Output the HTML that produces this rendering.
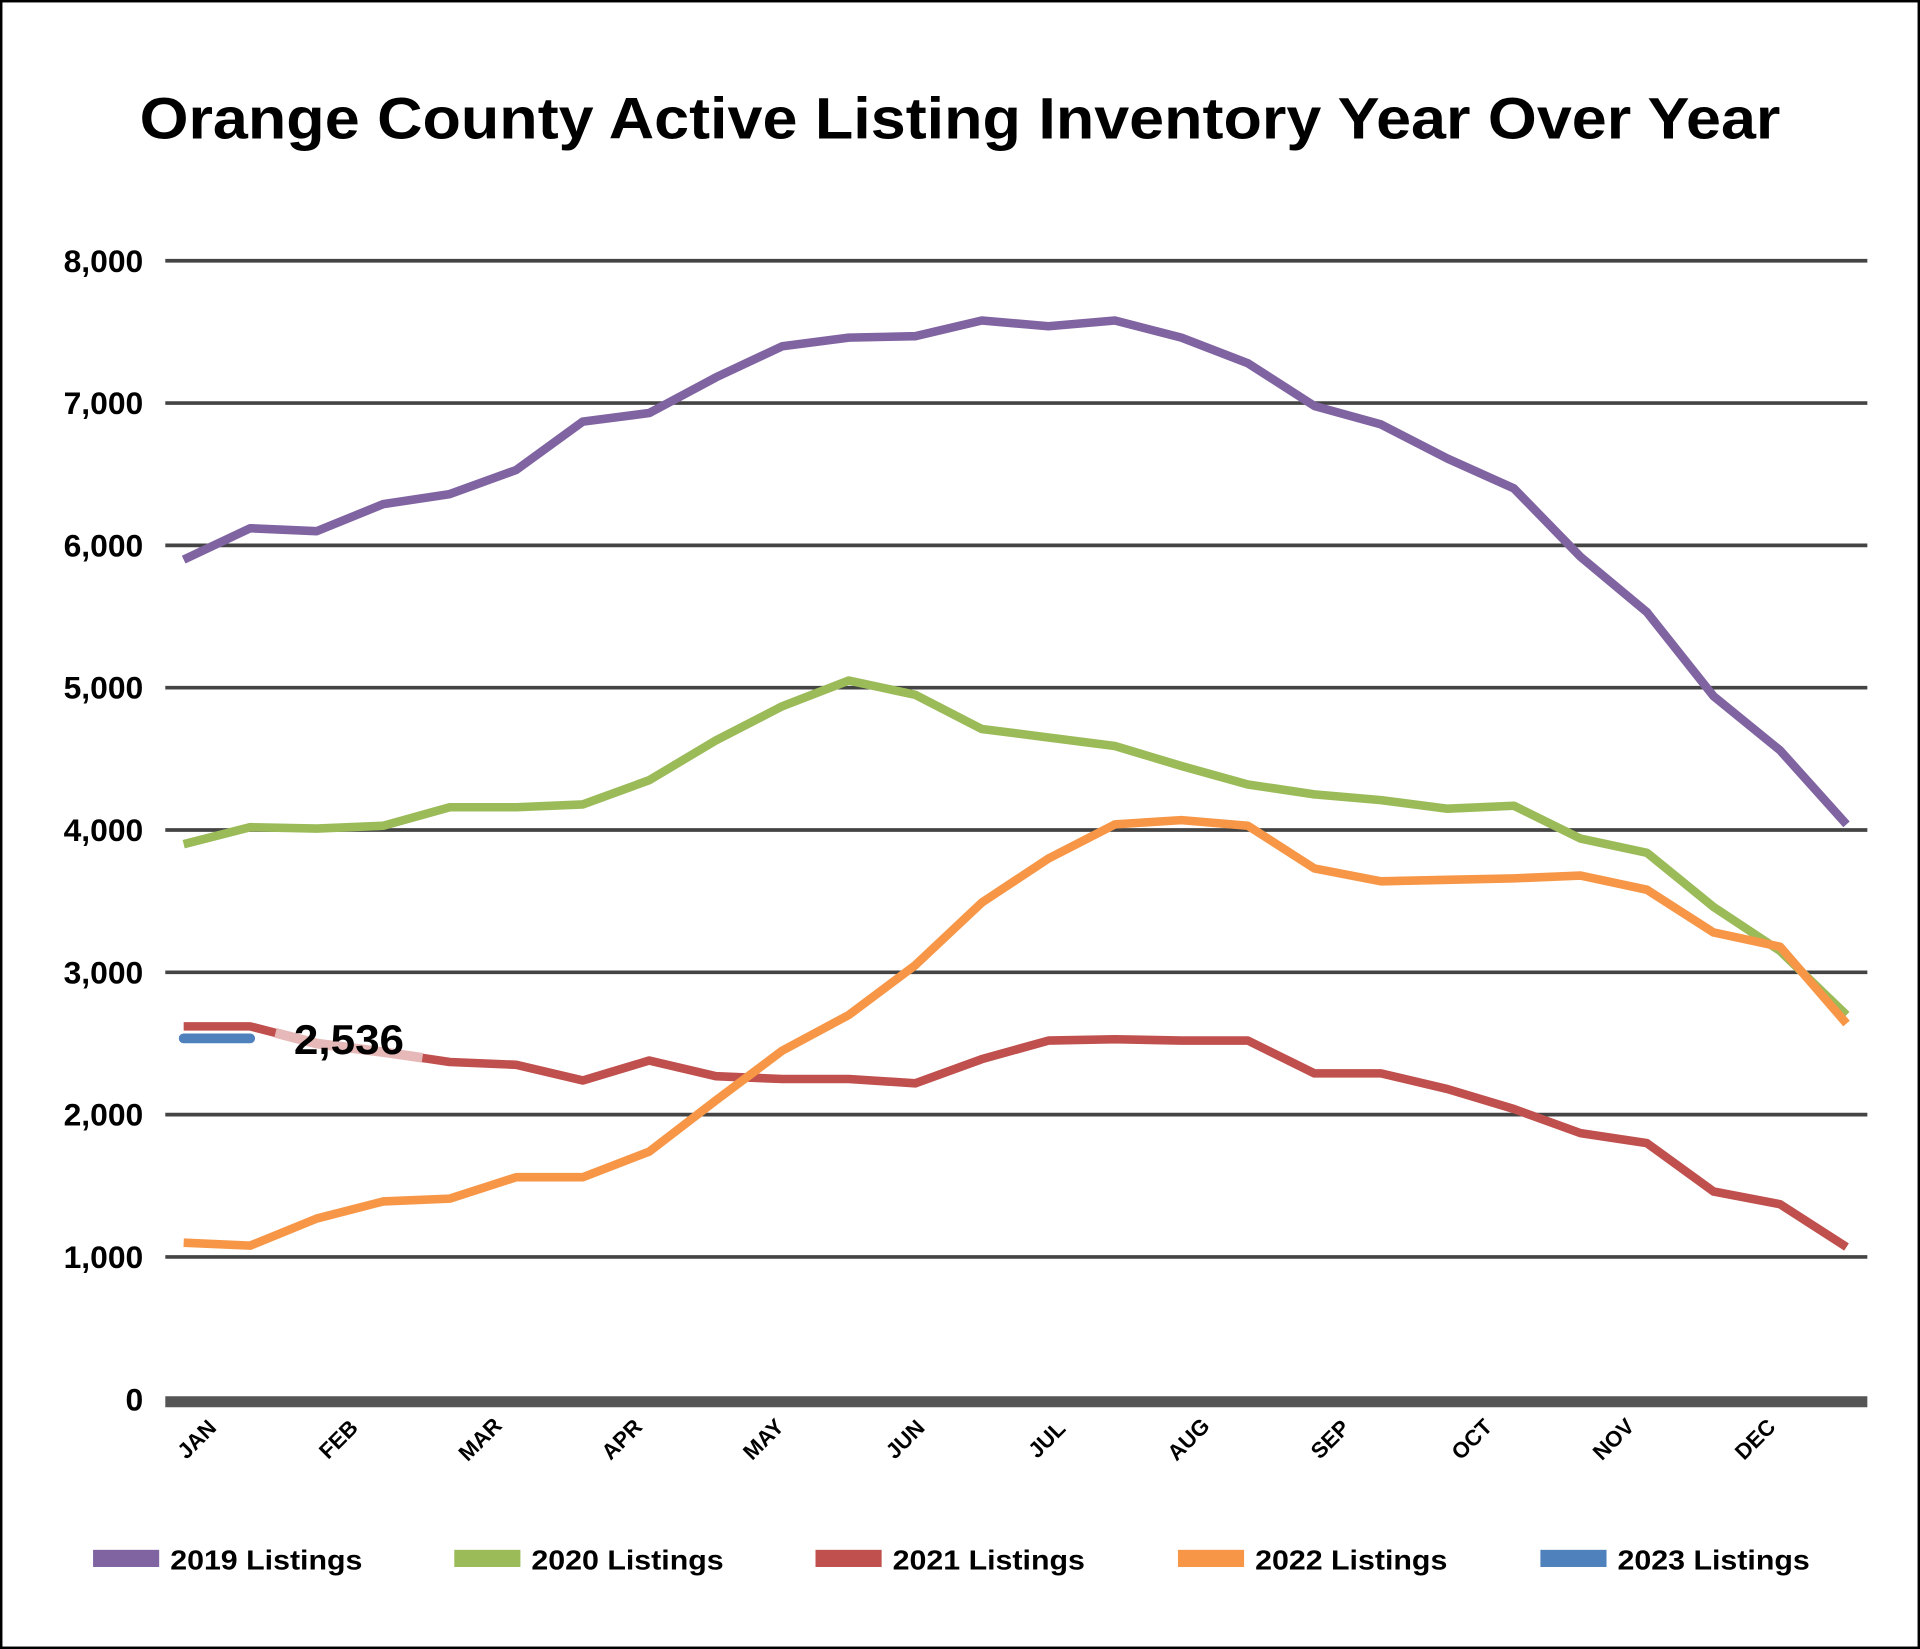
<!DOCTYPE html>
<html><head><meta charset="utf-8"><style>
html,body{margin:0;padding:0;background:#fff;}
svg{display:block;font-family:"Liberation Sans","DejaVu Sans",sans-serif;}
</style></head><body>
<svg id="chart" width="1920" height="1649" viewBox="0 0 1568 1347" preserveAspectRatio="none" xmlns="http://www.w3.org/2000/svg">
<rect x="1" y="1" width="1566" height="1345" fill="#fff" stroke="#000" stroke-width="2"/>
<text x="114" y="113" textLength="1340" lengthAdjust="spacingAndGlyphs" font-size="48" font-weight="bold" fill="#000">Orange County Active Listing Inventory Year Over Year</text>
<g id="grid"></g><g id="series"></g><g id="labels"></g><g id="legend"></g>
</svg>
<script>
const months = ["JAN","FEB","MAR","APR","MAY","JUN","JUL","AUG","SEP","OCT","NOV","DEC"];
const yTicks = [0,1000,2000,3000,4000,5000,6000,7000,8000];
const s2019 = [5900,6120,6100,6290,6360,6530,6870,6930,7180,7400,7460,7470,7580,7540,7580,7460,7280,6980,6850,6610,6400,5920,5530,4940,4560,4040];
const s2020 = [3900,4020,4010,4030,4160,4160,4180,4350,4630,4870,5050,4950,4710,4650,4590,4450,4320,4250,4210,4150,4170,3940,3840,3460,3150,2700];
const s2021 = [2620,2620,2500,2440,2370,2350,2240,2380,2270,2250,2250,2220,2390,2520,2530,2520,2520,2290,2290,2180,2040,1870,1800,1460,1370,1070];
const s2022 = [1100,1080,1270,1390,1410,1560,1560,1740,2100,2450,2700,3050,3490,3800,4040,4070,4030,3730,3640,3650,3660,3680,3580,3280,3180,2640];
const s2023 = [2536,2536];
const seriesNames = ["2019 Listings","2020 Listings","2021 Listings","2022 Listings","2023 Listings"];
const seriesColors = ["#8064a2","#9bbb59","#c0504d","#f79646","#4f81bd"];
const calloutValue = "2,536";

const NS="http://www.w3.org/2000/svg";
const x0=150, x1=1508, nPts=26;
const yZero=1143, yTop=213, yMax=8000;
const X=i=>x0+(x1-x0)*i/(nPts-1);
const Y=v=>yZero-(yZero-yTop)*v/yMax;
const M=i=>165+115.7*i;
function mk(tag,attrs,parent){const e=document.createElementNS(NS,tag);for(const k in attrs)e.setAttribute(k,attrs[k]);parent.appendChild(e);return e;}
const grid=document.getElementById('grid'), ser=document.getElementById('series'), lab=document.getElementById('labels'), leg=document.getElementById('legend');

yTicks.forEach(v=>{
  const l=mk('line',{x1:135,x2:1525,y1:Y(v)+(v===0?2:0),y2:Y(v)+(v===0?2:0),stroke:v===0?'#555':'#444','stroke-width':v===0?9:3},grid);
  
  
  const t=mk('text',{x:117,y:Y(v)+9,'text-anchor':'end','font-size':26,'font-weight':'bold',fill:'#000'},lab);
  t.textContent=v.toLocaleString('en-US');
  
  
});
months.forEach((m,i)=>{
  const cx=M(i), cy=1180;
  const t=mk('text',{x:cx,y:cy,'text-anchor':'middle','font-size':18,'font-weight':'bold',fill:'#000',transform:`rotate(-45 ${cx} ${cy})`},lab);
  t.textContent=m;
  
  
});
const all=[s2019,s2020,s2021,s2022,s2023];
all.forEach((arr,k)=>{
  const pts=arr.map((v,i)=>X(i).toFixed(1)+','+Y(v).toFixed(1)).join(' ');
  const p=mk('polyline',{points:pts,fill:'none',stroke:seriesColors[k],'stroke-width':k===4?8:7,'stroke-linejoin':'round','stroke-linecap':k===4?'round':'butt'},ser);
  
  
});
const fx0=225, fx1=345;
const fadePts=[];
for(let i=0;i<s2021.length-1;i++){
  const xa=X(i), xb=X(i+1);
  if(xb<fx0||xa>fx1) continue;
  const ca=Math.max(xa,fx0), cb=Math.min(xb,fx1);
  const f=x=>s2021[i]+(s2021[i+1]-s2021[i])*(x-xa)/(xb-xa);
  fadePts.push(ca.toFixed(1)+','+Y(f(ca)).toFixed(1)); fadePts.push(cb.toFixed(1)+','+Y(f(cb)).toFixed(1));
}
const fp=mk('polyline',{points:fadePts.join(' '),fill:'none',stroke:'#e6b9b8','stroke-width':8},ser);


const co=mk('text',{x:240,y:861,'font-size':34,'font-weight':'bold',fill:'#000',textLength:90,lengthAdjust:'spacingAndGlyphs'},lab);
co.textContent=calloutValue;



const legX=[76,371,666,962,1258];
seriesNames.forEach((n,k)=>{
  const r=mk('rect',{x:legX[k],y:1266,width:54,height:14,fill:seriesColors[k]},leg);
  
  
  const t=mk('text',{x:legX[k]+63,y:1282,'font-size':23,'font-weight':'bold',fill:'#000',textLength:157,lengthAdjust:'spacingAndGlyphs'},leg);
  t.textContent=n;
  
  
});
</script>
</body></html>
